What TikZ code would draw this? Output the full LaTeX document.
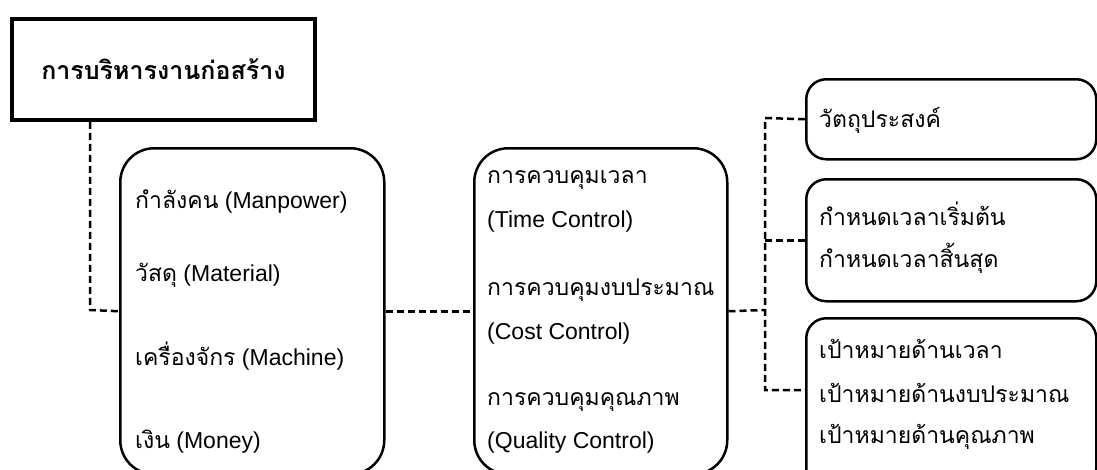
\documentclass[tikz,border=0pt]{standalone}
\usepackage{fontspec}
\setmainfont{Liberation Sans}
\newfontfamily\thaifont[Script=Thai]{Loma}
\begin{document}
\begin{tikzpicture}[x=1pt,y=-1pt,
  titlebox/.style={draw, line width=3.8pt, rectangle, inner sep=0pt, anchor=north west,
    font=\fontsize{25}{30}\selectfont\thaifont\bfseries},
  roundbox/.style={draw, line width=2.5pt, rounded corners=34pt, rectangle, inner sep=0pt, anchor=north west},
  smallbox/.style={draw, line width=2.5pt, rounded corners=20pt, rectangle, inner sep=0pt, anchor=north west},
  txt/.style={anchor=base west, inner sep=0pt, font=\fontsize{23}{27}\selectfont},
  link/.style={line width=2.5pt, dash pattern=on 7pt off 4pt}]
\useasboundingbox (0,0) rectangle (1097,469);
\clip (0,0) rectangle (1097,469);

% boxes
\node[titlebox, minimum width=303pt, minimum height=101pt] (title) at (10,17) {การบริหารงานก่อสร้าง};
\node[roundbox, minimum width=264pt, minimum height=326pt] (res) at (119,147) {};
\node[roundbox, minimum width=253pt, minimum height=326pt] (ctrl) at (473,147) {};
\node[smallbox, minimum width=290pt, minimum height=80pt] (goal) at (805,78) {};
\node[smallbox, minimum width=290pt, minimum height=122pt] (sched) at (805,178) {};
\node[smallbox, minimum width=290pt, minimum height=170pt] (target) at (805,317) {};

% resources
\node[txt] (r1) at (135,208) {{\thaifont กำลังคน} (Manpower)};
\node[txt] (r2) at (135,281) {{\thaifont วัสดุ} (Material)};
\node[txt] (r3) at (135,365) {{\thaifont เครื่องจักร} (Machine)};
\node[txt] (r4) at (135,448) {{\thaifont เงิน} (Money)};

% controls
\node[txt] (c1) at (487,183) {\thaifont การควบคุมเวลา};
\node[txt] (c2) at (487,227) {(Time Control)};
\node[txt] (c3) at (487,295) {\thaifont การควบคุมงบประมาณ};
\node[txt] (c4) at (487,339) {(Cost Control)};
\node[txt] (c5) at (487,405) {\thaifont การควบคุมคุณภาพ};
\node[txt] (c6) at (487,448) {(Quality Control)};

% right-hand boxes
\node[txt] (g1) at (819,127) {\thaifont วัตถุประสงค์};
\node[txt] (s1) at (819,225) {\thaifont กำหนดเวลาเริ่มต้น};
\node[txt] (s2) at (819,267) {\thaifont กำหนดเวลาสิ้นสุด};
\node[txt] (p1) at (819,358) {\thaifont เป้าหมายด้านเวลา};
\node[txt] (p2) at (819,402) {\thaifont เป้าหมายด้านงบประมาณ};
\node[txt] (p3) at (819,443) {\thaifont เป้าหมายด้านคุณภาพ};

% connectors
\coordinate (elbow) at (90,310);
\coordinate (bus) at (765,310);
\coordinate (busTop) at (765,118);
\coordinate (busBot) at (765,390);
\draw[link] (title.south -| elbow) -- (elbow) -- (res.west);
\draw[link] (res.east) -- (ctrl.west);
\draw[link] (ctrl.east) -- (bus);
\draw[link] (goal.west) -- (busTop) -- (busBot) -- (busBot -| target.west);
\draw[link] (bus |- sched.west) -- (sched.west);
\end{tikzpicture}
\end{document}
